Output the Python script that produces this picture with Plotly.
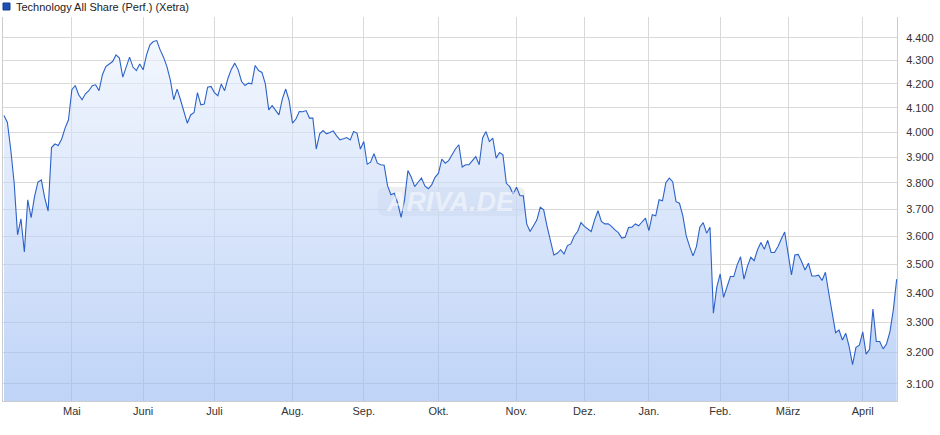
import plotly.graph_objects as go
import math

# Technology All Share (Perf.) (Xetra) - daily closes, one per trading day
values = [
    4068, 4039, 3929, 3799, 3605, 3664, 3543, 3735, 3668, 3747,
    3803, 3811, 3742, 3693, 3938, 3952, 3946, 3972, 4016, 4050,
    4175, 4193, 4154, 4133, 4158, 4171, 4192, 4196, 4171, 4239,
    4274, 4285, 4296, 4325, 4311, 4229, 4274, 4315, 4272, 4257,
    4285, 4260, 4325, 4369,
    4384, 4388, 4347, 4315, 4274, 4217, 4133, 4178, 4133, 4088,
    4036, 4070, 4080, 4163, 4112, 4115, 4186, 4189, 4163, 4150,
    4199, 4171, 4224, 4263, 4289, 4260, 4210, 4193, 4203, 4200,
    4279, 4257, 4249, 4200, 4091, 4108, 4088, 4070, 4136, 4178,
    4130, 4036, 4053,
    4084, 4083, 4088, 4057, 4057, 3932, 3993, 4006, 3993, 3998,
    4005, 3985, 3969, 3973, 3978, 3968, 4002, 3996, 3932, 3962,
    3872, 3880, 3913, 3876, 3870, 3868, 3789, 3754, 3760, 3722,
    3669, 3735, 3847, 3821, 3785, 3802, 3818, 3788, 3777, 3792,
    3821, 3837, 3892, 3876, 3886, 3909, 3932, 3949, 3861, 3870,
    3870, 3886, 3902, 3870, 3976, 4002, 3962, 3976, 3896, 3918,
    3909, 3798, 3785, 3756, 3783, 3751, 3750, 3645, 3617, 3638,
    3660, 3707, 3697, 3636, 3581, 3532, 3538, 3551, 3536, 3566,
    3572, 3601, 3617, 3650, 3636, 3626, 3617, 3660, 3694, 3654,
    3645, 3645, 3636, 3623, 3613, 3593, 3596, 3632, 3633, 3645,
    3638, 3653, 3666, 3620, 3679, 3675, 3735, 3731, 3800, 3818,
    3804, 3728, 3722, 3675, 3601, 3562, 3529, 3562, 3633,
    3650, 3611, 3633, 3330, 3419, 3465, 3384, 3419, 3456, 3456,
    3497, 3526, 3447, 3491, 3524, 3512, 3551, 3577, 3553, 3585,
    3541, 3541, 3562, 3590, 3615, 3538, 3462, 3532, 3534, 3508,
    3479, 3503, 3458, 3458, 3461, 3442, 3471, 3398, 3330, 3265,
    3274, 3241, 3263, 3219, 3161, 3217, 3224, 3268, 3195, 3211,
    3344, 3236, 3236, 3212, 3228, 3268, 3341, 3447,
]
trading_day = list(range(len(values)))

# first trading day of each month (index into trading_day) and labels
month_start = [20, 41, 62, 85, 106, 128, 151, 171, 190, 211, 231, 253]
month_labels = ["Mai", "Juni", "Juli", "Aug.", "Sep.", "Okt.", "Nov.",
                "Dez.", "Jan.", "Feb.", "März", "April"]

y_ticks = [3100, 3200, 3300, 3400, 3500, 3600, 3700, 3800, 3900,
           4000, 4100, 4200, 4300, 4400]
y_min, y_max = 3047, 4494

series_name = "Technology All Share (Perf.) (Xetra)"

W, H = 940, 435
L, R, T, B = 3, 43, 17, 34
pw, ph = W - L - R, H - T - B


def px_x(p):
    return (p - L) / pw


def px_y(p):
    return (H - B - p) / ph


def rounded_rect_path(x0, y0, x1, y1, r):
    # pixel box -> paper-coordinate SVG path with rounded corners
    X = lambda p: f"{px_x(p):.5f}"
    Y = lambda p: f"{px_y(p):.5f}"
    return (
        f"M {X(x0 + r)} {Y(y0)} L {X(x1 - r)} {Y(y0)} "
        f"Q {X(x1)} {Y(y0)} {X(x1)} {Y(y0 + r)} "
        f"L {X(x1)} {Y(y1 - r)} Q {X(x1)} {Y(y1)} {X(x1 - r)} {Y(y1)} "
        f"L {X(x0 + r)} {Y(y1)} Q {X(x0)} {Y(y1)} {X(x0)} {Y(y1 - r)} "
        f"L {X(x0)} {Y(y0 + r)} Q {X(x0)} {Y(y0)} {X(x0 + r)} {Y(y0)} Z"
    )


fig = go.Figure()
fig.add_trace(go.Scatter(
    x=trading_day, y=values, mode="lines",
    line=dict(color="#2c62c8", width=1.1),
    fill="tozeroy",
    fillgradient=dict(
        type="vertical",
        start=y_min, stop=4400,
        colorscale=[[0, "rgba(148,183,242,0.6)"], [1, "rgba(236,242,253,0.6)"]],
    ),
    hoverinfo="skip", showlegend=False,
))

n = len(values)
fig.update_layout(
    width=W, height=H,
    margin=dict(l=L, r=R, t=T, b=B, pad=0),
    paper_bgcolor="white", plot_bgcolor="white",
    separators=",.",
    font=dict(family="Liberation Sans, Arial, sans-serif", size=11, color="#333333"),
    xaxis=dict(
        range=[-0.29, n - 1 + 0.09],
        tickvals=month_start, ticktext=month_labels,
        showgrid=True, gridcolor="#d9d9d9", gridwidth=1,
        showline=True, linecolor="#cccccc", linewidth=1,
        ticks="", zeroline=False,
        tickfont=dict(size=11, color="#333333"),
        fixedrange=True,
    ),
    yaxis=dict(
        type="log", side="right",
        range=[math.log10(y_min), math.log10(y_max)],
        tickvals=y_ticks, tickformat=",d",
        showgrid=True, gridcolor="#d9d9d9", gridwidth=1,
        showline=True, linecolor="#cccccc", linewidth=1, mirror=True,
        ticks="", ticklabelstandoff=6, zeroline=False,
        tickfont=dict(size=11, color="#333333"),
        fixedrange=True,
    ),
    shapes=[
        dict(type="rect", xref="paper", yref="paper",
             x0=px_x(3), x1=px_x(10), y0=px_y(10), y1=px_y(3),
             fillcolor="#1f50b5", line=dict(color="#173d8a", width=1)),
        dict(type="path", xref="paper", yref="paper", layer="below",
             path=rounded_rect_path(378, 187, 525, 216, 7),
             fillcolor="rgba(170,178,195,0.22)", line=dict(width=0)),
    ],
    annotations=[
        dict(text=series_name, xref="paper", yref="paper",
             x=px_x(14), y=px_y(6.5), xanchor="left", yanchor="middle",
             showarrow=False, font=dict(size=11, color="#222222")),
        dict(text="<b><i>ARIVA.DE</i></b>", xref="paper", yref="paper",
             x=px_x(450), y=px_y(202), xanchor="center", yanchor="middle",
             showarrow=False,
             font=dict(size=27, color="rgba(255,255,255,0.5)",
                       family="Liberation Sans, Arial, sans-serif")),
    ],
)

fig.write_html(
    "out.html",
    config={"displayModeBar": False},
    post_script="document.body.style.margin='0';document.body.style.padding='0';",
)
